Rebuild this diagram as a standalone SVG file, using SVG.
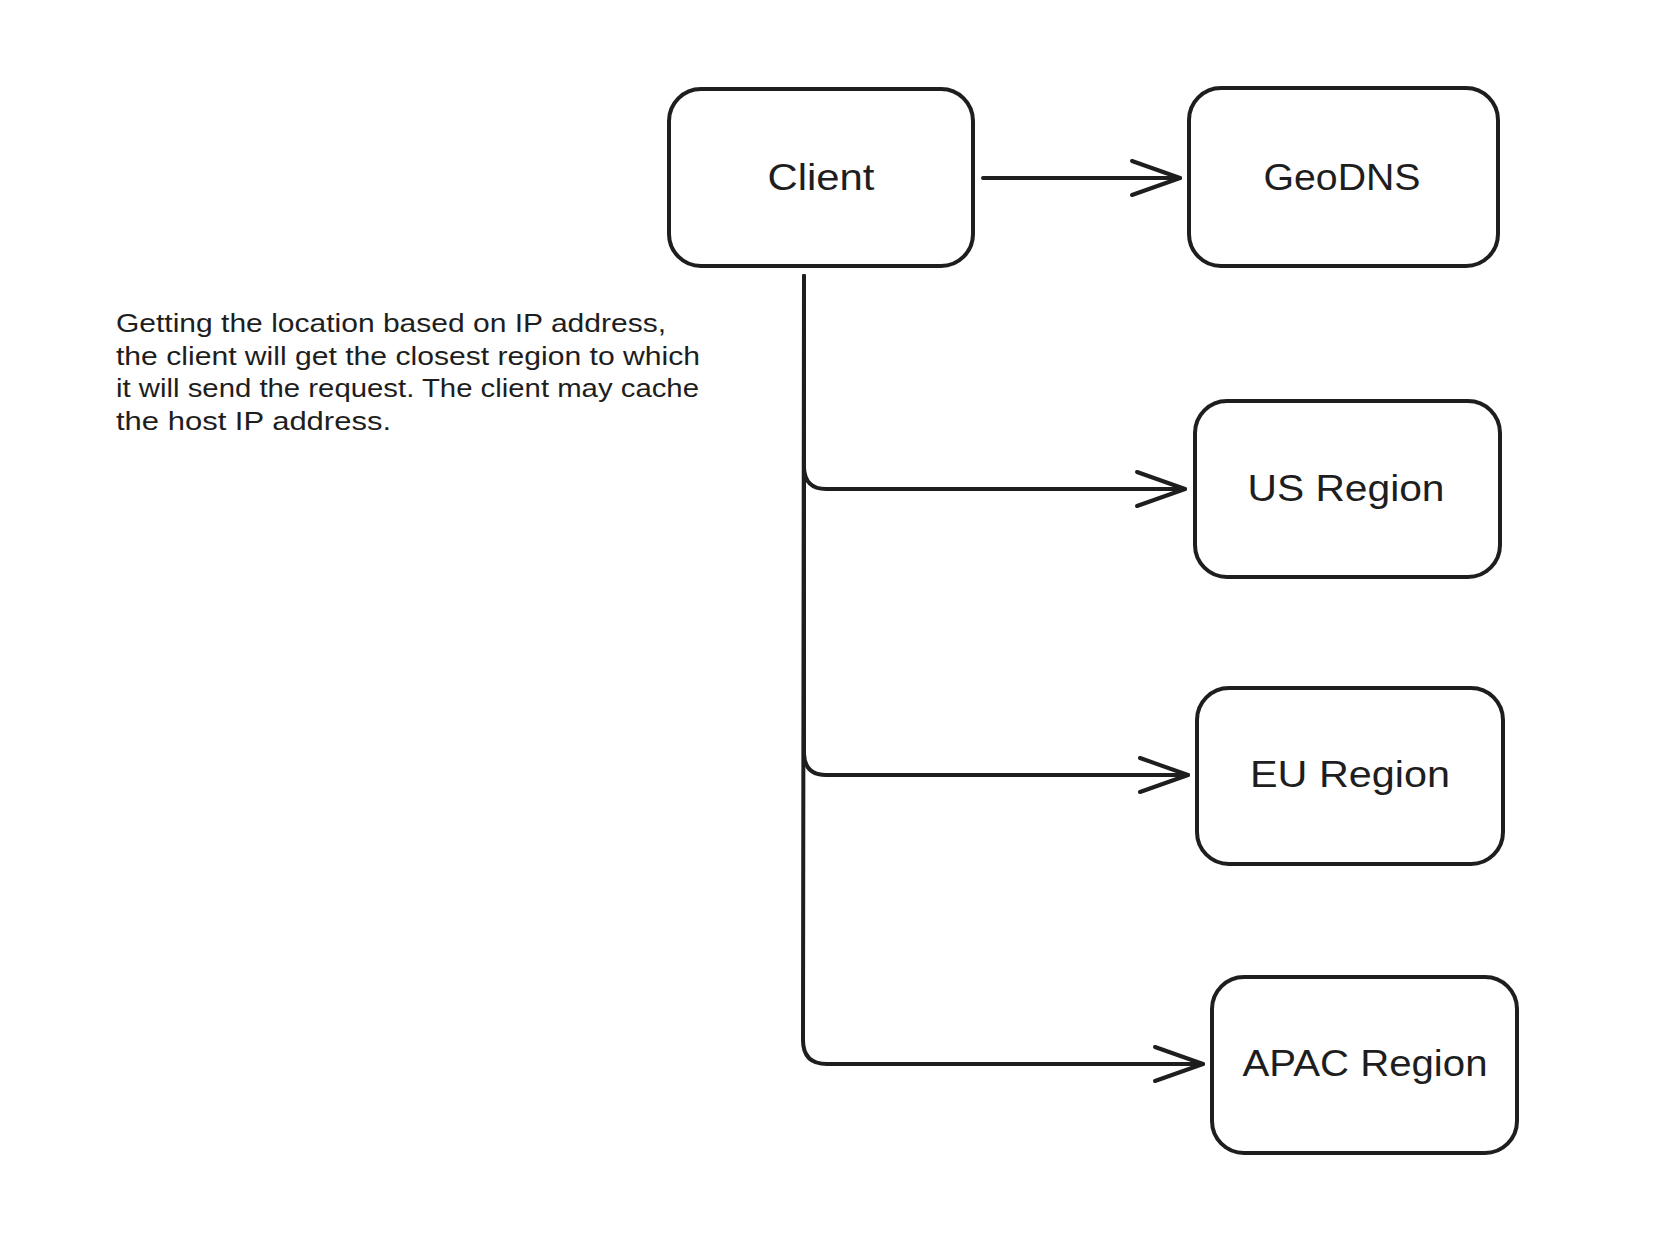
<svg xmlns="http://www.w3.org/2000/svg" width="1670" height="1236" viewBox="0 0 1670 1236">
<style>
.box{fill:#ffffff;stroke:#1e1e1e;stroke-width:4}
.lbl{font-family:"Liberation Sans","DejaVu Sans",sans-serif;font-size:36px;fill:#1e1e1e;text-anchor:middle}
.note{font-family:"Liberation Sans","DejaVu Sans",sans-serif;font-size:25px;fill:#1e1e1e}
.conn{fill:none;stroke:#1e1e1e;stroke-width:4;stroke-linecap:round;stroke-linejoin:round}
</style>
<defs>
<marker id="arr" markerUnits="userSpaceOnUse" markerWidth="60" markerHeight="40" viewBox="-52 -20 56 40" refX="0" refY="0" orient="auto" overflow="visible">
<path d="M -48 -17 L 0 0 L -48 17" fill="none" stroke="#1e1e1e" stroke-width="4" stroke-linecap="round" stroke-linejoin="round"/>
</marker>
</defs>
<rect width="1670" height="1236" fill="#ffffff"/>
<g id="connectors">
<path class="conn" d="M 983 178 L 1180 178" marker-end="url(#arr)"/>
<path class="conn" d="M 804 276 L 804 468 Q 805 489 826 489 L 1185 489" marker-end="url(#arr)"/>
<path class="conn" d="M 804 276 L 804 754 Q 805 775 826 775 L 1188 775" marker-end="url(#arr)"/>
<path class="conn" d="M 804 276 L 803 1040 Q 803 1064 827 1064 L 1203 1064" marker-end="url(#arr)"/>
</g>
<g id="client">
<rect class="box" x="669" y="89" width="304" height="177" rx="32"/>
<text class="lbl" x="821" y="190" textLength="107" lengthAdjust="spacingAndGlyphs">Client</text>
</g>
<g id="geodns">
<rect class="box" x="1189" y="88" width="309" height="178" rx="32"/>
<text class="lbl" x="1342" y="190" textLength="157" lengthAdjust="spacingAndGlyphs">GeoDNS</text>
</g>
<g id="us-region">
<rect class="box" x="1195" y="401" width="305" height="176" rx="32"/>
<text class="lbl" x="1346" y="501" textLength="197" lengthAdjust="spacingAndGlyphs">US Region</text>
</g>
<g id="eu-region">
<rect class="box" x="1197" y="688" width="306" height="176" rx="32"/>
<text class="lbl" x="1350" y="787" textLength="200" lengthAdjust="spacingAndGlyphs">EU Region</text>
</g>
<g id="apac-region">
<rect class="box" x="1212" y="977" width="305" height="176" rx="32"/>
<text class="lbl" x="1365" y="1076" textLength="245" lengthAdjust="spacingAndGlyphs">APAC Region</text>
</g>
<g id="note">
<text class="note" x="116" y="332" textLength="550" lengthAdjust="spacingAndGlyphs">Getting the location based on IP address,</text>
<text class="note" x="116" y="365" textLength="584" lengthAdjust="spacingAndGlyphs">the client will get the closest region to which</text>
<text class="note" x="116" y="397" textLength="583" lengthAdjust="spacingAndGlyphs">it will send the request. The client may cache</text>
<text class="note" x="116" y="430" textLength="275" lengthAdjust="spacingAndGlyphs">the host IP address.</text>
</g>
</svg>
